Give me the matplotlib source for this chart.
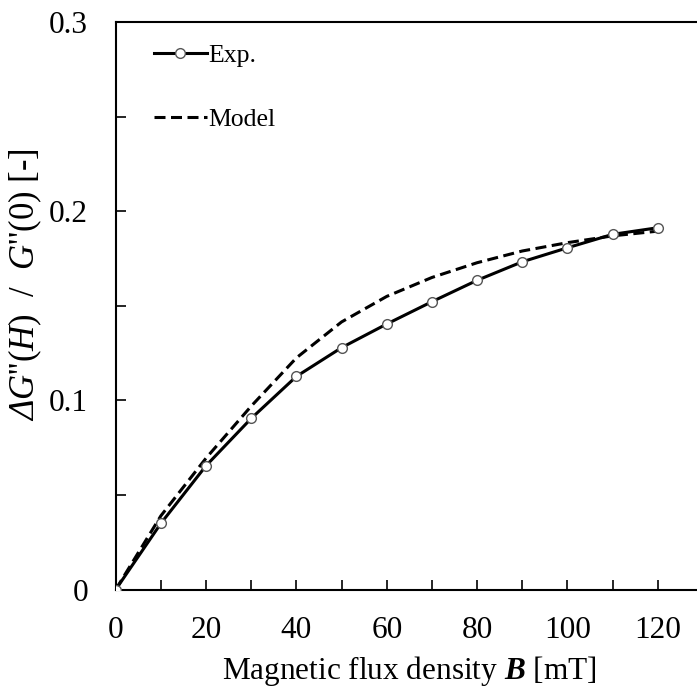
import matplotlib
matplotlib.use("Agg")
import matplotlib.pyplot as plt

plt.rcParams['font.family'] = ['Liberation Serif', 'DejaVu Serif']
plt.rcParams['mathtext.fontset'] = 'custom'
plt.rcParams['mathtext.rm'] = 'Liberation Serif'
plt.rcParams['mathtext.it'] = 'Liberation Serif:italic'
plt.rcParams['mathtext.sf'] = 'Liberation Serif:italic'
plt.rcParams['mathtext.bf'] = 'Liberation Serif:bold'
plt.rcParams['mathtext.bfit'] = 'Liberation Serif:bold:italic'

B_exp = [0, 10, 20, 30, 40, 50, 60, 70, 80, 90, 100, 110, 120]
G_exp = [0, 0.035, 0.0655, 0.0905, 0.1127, 0.1279, 0.1404, 0.1522, 0.1635, 0.1733, 0.1807, 0.1878, 0.1913]
B_model = [0, 10, 20, 30, 40, 50, 60, 70, 80, 90, 100, 110, 120]
G_model = [0, 0.039, 0.0695, 0.097, 0.1225, 0.1415, 0.155, 0.165, 0.1728, 0.179, 0.1834, 0.187, 0.1895]

fig = plt.figure(figsize=(6.97, 6.88), dpi=100)
ax = fig.add_axes([115.7/697, 1-589.6/688, (703-115.7)/697, (589.6-22.1)/688])

ax.plot(B_exp, G_exp, color='black', lw=2.2, marker='o', ms=7, mfc='white',
        mec='#555555', mew=1.0, zorder=3, label='Exp.')
ax.plot(B_model, G_model, color='black', lw=2.2, ls=(0, (3.6, 1.8)), zorder=2, label='Model')

ax.set_xlim(0, 130)
ax.set_ylim(0, 0.3)
ax.set_xticks([0, 20, 40, 60, 80, 100, 120])
ax.set_xticks(range(0, 131, 10), minor=True)
ax.set_yticks([0, 0.1, 0.2, 0.3])
ax.set_yticklabels(['0', '0.1', '0.2', '0.3'])
ax.set_yticks([0.05, 0.15, 0.25], minor=True)
ax.tick_params(which='both', direction='in', labelsize=22.5, width=1.2, length=7)
ax.tick_params(axis='x', pad=19)
ax.tick_params(axis='y', pad=20)
for s in ['left', 'bottom', 'top']:
    ax.spines[s].set_linewidth(1.5)
ax.spines['right'].set_visible(False)

ax.set_xlabel(r'Magnetic flux density $\mathbfit{B}$ [mT]', fontsize=22.5, labelpad=6.5)
ax.set_ylabel(r"$\mathsf{Δ}\mathit{G}$''($\mathit{H}$)  /  $\mathit{G}$''(0) [-]", fontsize=25)
ax.yaxis.set_label_coords(-0.122, 0.537)

ax.legend(loc='upper left', bbox_to_anchor=(0.025, 1.003), frameon=False, fontsize=18.5,
          handlelength=2.1, handletextpad=0.05, labelspacing=1.6)

fig.savefig('out.png', dpi=100)
